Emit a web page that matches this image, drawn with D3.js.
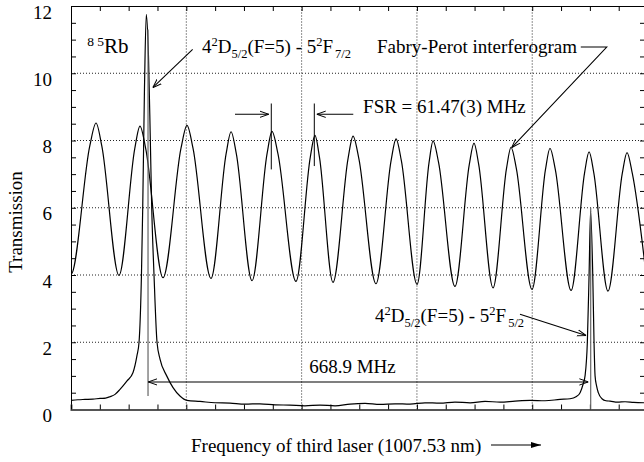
<!DOCTYPE html>
<html><head><meta charset="utf-8">
<script src="https://cdn.jsdelivr.net/npm/d3@7"></script>
<style>
html,body{margin:0;padding:0;background:#fff;}
svg{display:block;font-family:"Liberation Serif","Times New Roman",serif;}
</style></head>
<body><svg id="c" width="644" height="462"></svg>
<script>
// ---- data (x in scan units: one unit = one vertical grid spacing) ----
// Fabry-Perot interferogram: minima, peak shoulders and peaks
const fpX = [-0.20, 0.0, 0.163, 0.217, 0.267, 0.416, 0.553, 0.598, 0.648, 0.798, 0.954, 1.006, 1.058, 1.214, 1.345, 1.388, 1.434, 1.570, 1.700, 1.743, 1.795, 1.951,
  2.075, 2.116, 2.155, 2.272, 2.403, 2.446, 2.496, 2.645, 2.776, 2.819, 2.865, 3.001, 3.105, 3.140, 3.188, 3.330, 3.454, 3.495, 3.536, 3.660,
  3.777, 3.816, 3.862, 3.998, 4.115, 4.154, 4.200, 4.337, 4.454, 4.493, 4.534, 4.657, 4.781, 4.822, 4.868, 5.004];
const fpY = [8.50, 4.02, 7.84, 8.52, 7.84, 3.99, 7.76, 8.43, 7.76, 3.92, 7.77, 8.45, 7.77, 3.90, 7.60, 8.26, 7.60, 3.83, 7.60, 8.27, 7.60, 3.81,
  7.50, 8.15, 7.50, 3.78, 7.47, 8.13, 7.47, 3.74, 7.40, 8.05, 7.40, 3.72, 7.34, 7.99, 7.34, 3.66, 7.28, 7.92, 7.28, 3.62,
  7.17, 7.80, 7.17, 3.57, 7.14, 7.77, 7.14, 3.54, 7.04, 7.66, 7.04, 3.52, 7.02, 7.64, 7.02, 3.50];

// 85Rb transmission trace
const rbX = [0, 0.06, 0.121, 0.19, 0.252, 0.30, 0.338, 0.382, 0.425, 0.486, 0.538, 0.572, 0.590, 0.611, 0.622, 0.637, 0.653, 0.672, 0.688, 0.700, 0.720, 0.746, 0.772, 0.830, 0.885, 0.945,
  1.006, 1.119, 1.249, 1.379, 1.509, 1.639, 1.769, 1.899, 2.029, 2.160, 2.290, 2.420, 2.550, 2.680, 2.810, 2.940, 3.070, 3.200, 3.330, 3.461, 3.591, 3.721, 3.851, 3.981, 4.111, 4.241, 4.328,
  4.380, 4.415, 4.441, 4.458, 4.478, 4.493, 4.506, 4.525, 4.536, 4.545, 4.558, 4.573, 4.605, 4.640, 4.675, 4.740, 4.805, 4.880, 4.978];
const rbY = [0.27, 0.29, 0.30, 0.31, 0.33, 0.34, 0.38, 0.45, 0.60, 0.85, 1.10, 1.60, 2.00, 4.00, 6.00, 9.50, 11.75, 10.50, 8.00, 6.00, 4.00, 2.00, 1.50, 1.00, 0.65, 0.40,
  0.27, 0.24, 0.20, 0.19, 0.16, 0.17, 0.14, 0.13, 0.11, 0.13, 0.11, 0.16, 0.18, 0.15, 0.17, 0.16, 0.20, 0.19, 0.22, 0.20, 0.24, 0.22, 0.25, 0.27, 0.26, 0.30, 0.32,
  0.38, 0.50, 0.75, 1.00, 2.00, 4.00, 5.90, 4.00, 2.00, 1.00, 0.70, 0.50, 0.32, 0.26, 0.25, 0.22, 0.23, 0.21, 0.20];

const yTickLabels = [0, 2, 4, 6, 8, 10, 12];
const yMinor = d3.range(0, 12.01, 0.5);
const xGridLines = [1, 2, 3, 4];
const xMinor = d3.range(0, 5, 0.25);

// markers & annotations (data units)
const rbLines = [{x: 0.668, y0: 0.4, y1: 11.3}, {x: 4.507, y0: 0, y1: 6.0}];
const fsrLines = [{x: 1.737, y0: 7.14, y1: 9.1}, {x: 2.110, y0: 7.24, y1: 9.1}];
const fsrArrows = [[[1.422, 8.78], [1.715, 8.78]], [[2.448, 8.78], [2.131, 8.78]]];
const arrow72 = [[1.055, 10.71], [0.709, 9.57]];
const arrowFP = [[4.421, 10.78], [4.646, 10.78], [3.822, 7.79]];
const arrow52 = [[3.894, 2.83], [4.467, 2.20]];
const sepArrow = [[0.670, 0.82], [4.487, 0.82]];

// ---- chart ----
const svg = d3.select("#c");
const x = d3.scaleLinear().domain([0, 4.978]).range([71, 645]);
const y = d3.scaleLinear().domain([0, 12]).range([409.5, 6]);
const FS = 19;

const defs = svg.append("defs");
defs.append("clipPath").attr("id", "clip").append("rect")
  .attr("x", 71).attr("y", 6).attr("width", 574).attr("height", 403.5);
defs.append("marker").attr("id", "arr").attr("viewBox", "0 0 10 10")
  .attr("refX", 10).attr("refY", 5).attr("markerWidth", 9).attr("markerHeight", 9)
  .attr("markerUnits", "userSpaceOnUse").attr("orient", "auto-start-reverse")
  .append("path").attr("d", "M0,1.5 L10,5 L0,8.5").attr("fill", "none").attr("stroke", "#000").attr("stroke-width", 1.1);
defs.append("marker").attr("id", "arrF").attr("viewBox", "0 0 10 10")
  .attr("refX", 10).attr("refY", 5).attr("markerWidth", 10).attr("markerHeight", 10)
  .attr("markerUnits", "userSpaceOnUse").attr("orient", "auto")
  .append("path").attr("d", "M0,2 L10,5 L0,8 z").attr("fill", "#000");

// grid
const grid = svg.append("g").attr("stroke", "#222").attr("stroke-width", 1).attr("stroke-dasharray", "1,2");
grid.selectAll("line.h").data([2, 4, 6, 8, 10]).join("line")
  .attr("x1", x(0)).attr("x2", x(4.978)).attr("y1", d => y(d)).attr("y2", d => y(d));
grid.selectAll("line.v").data(xGridLines).join("line")
  .attr("x1", d => x(d)).attr("x2", d => x(d)).attr("y1", y(0)).attr("y2", y(12));

// axes (ticks inward)
const axL = svg.append("g").attr("transform", `translate(${x(0)},0)`)
  .call(d3.axisRight(y).tickValues(yMinor).tickSize(5).tickFormat(""));
const axR = svg.append("g").attr("transform", `translate(${x(4.978)},0)`)
  .call(d3.axisLeft(y).tickValues(yMinor).tickSize(5).tickFormat(""));
const axT = svg.append("g").attr("transform", `translate(0,${y(12)})`)
  .call(d3.axisBottom(x).tickValues(xMinor).tickSize(5).tickFormat(""));
const axB = svg.append("g").attr("transform", `translate(0,${y(0)})`)
  .call(d3.axisTop(x).tickValues(xMinor).tickSize(5).tickFormat(""));
[axL, axR, axT, axB].forEach(a => { a.selectAll("path.domain").attr("stroke", "#000"); a.selectAll("line").attr("stroke", "#000"); });
axB.select("path.domain").attr("stroke", "#555").attr("stroke-width", 2);

const lab = svg.append("g").attr("transform", `translate(${x(0)},0)`)
  .call(d3.axisLeft(y).tickValues(yTickLabels).tickSize(0).tickPadding(19));
lab.select("path.domain").remove();
lab.selectAll("text").attr("font-size", FS).attr("font-family", "Liberation Serif").attr("fill", "#000")
  .attr("transform", "translate(0,6)");

// traces
const line = d3.line().x(d => x(d[0])).y(d => y(d[1])).curve(d3.curveMonotoneX);
const plot = svg.append("g").attr("clip-path", "url(#clip)");
plot.append("path").datum(fpX.map((v, i) => [v, fpY[i]]))
  .attr("d", line).attr("fill", "none").attr("stroke", "#000").attr("stroke-width", 1.2);
plot.append("path").datum(rbX.map((v, i) => [v, rbY[i]]))
  .attr("d", line).attr("fill", "none").attr("stroke", "#000").attr("stroke-width", 1.2);

// vertical marker lines
plot.selectAll("line.rb").data(rbLines).join("line")
  .attr("x1", d => x(d.x)).attr("x2", d => x(d.x)).attr("y1", d => y(d.y0)).attr("y2", d => y(d.y1))
  .attr("stroke", "#666").attr("stroke-width", 1.2);
plot.selectAll("line.fsr").data(fsrLines).join("line")
  .attr("x1", d => x(d.x)).attr("x2", d => x(d.x)).attr("y1", d => y(d.y0)).attr("y2", d => y(d.y1))
  .attr("stroke", "#000").attr("stroke-width", 1);

// arrows
const lin = d3.line().x(d => x(d[0])).y(d => y(d[1]));
const ann = svg.append("g").attr("fill", "none").attr("stroke", "#000").attr("stroke-width", 1.1);
fsrArrows.forEach(a => ann.append("path").attr("d", lin(a)).attr("marker-end", "url(#arr)"));
ann.append("path").attr("d", lin(arrow72)).attr("marker-end", "url(#arr)");
ann.append("path").attr("d", lin(arrowFP)).attr("marker-end", "url(#arr)");
ann.append("path").attr("d", lin(arrow52)).attr("marker-end", "url(#arr)");
ann.append("path").attr("d", lin(sepArrow)).attr("marker-end", "url(#arr)").attr("marker-start", "url(#arr)");

// text helpers
function rich(px, py, parts, base, small) {
  base = base || FS; small = small || 12.5;
  const t = svg.append("text").attr("x", px).attr("y", py).attr("font-size", base).attr("fill", "#000");
  let cur = 0;
  parts.forEach(([s, k, dx]) => {
    const target = k === "sup" ? -7 : k === "sub" ? 5 : 0;
    const ts = t.append("tspan").attr("dy", target - cur).attr("font-size", k ? small : base).text(s);
    if (dx) ts.attr("dx", dx);
    cur = target;
  });
  return t;
}
rich(x(0.14), y(10.6), [["8 5", "sup"], ["Rb"]], 21, 13.5);
rich(x(1.136), y(10.6), [["4"], ["2", "sup"], ["D"], ["5/2", "sub"], ["(F=5) - 5"], ["2", "sup"], ["F"], ["7/2", "sub", 2]]);
rich(x(2.637), y(2.6), [["4"], ["2", "sup"], ["D"], ["5/2", "sub"], ["(F=5) - 5"], ["2", "sup"], ["F"], ["5/2", "sub", 2]]);
svg.append("text").attr("x", x(2.533)).attr("y", y(8.82)).attr("font-size", FS).text("FSR = 61.47(3) MHz");
svg.append("text").attr("x", x(2.654)).attr("y", y(10.6)).attr("font-size", FS).text("Fabry-Perot interferogram");
svg.append("text").attr("x", x(2.441)).attr("y", y(1.085)).attr("font-size", FS).attr("text-anchor", "middle").text("668.9 MHz");

// axis titles
svg.append("text").attr("transform", "translate(22,222) rotate(-90)").attr("text-anchor", "middle")
  .attr("font-size", FS).text("Transmission");
svg.append("text").attr("x", 191).attr("y", 451.5).attr("font-size", FS).text("Frequency of third laser (1007.53 nm)");
svg.append("line").attr("x1", 491).attr("x2", 541).attr("y1", 445).attr("y2", 445)
  .attr("stroke", "#000").attr("stroke-width", 1.2).attr("marker-end", "url(#arrF)");
</script></body></html>
